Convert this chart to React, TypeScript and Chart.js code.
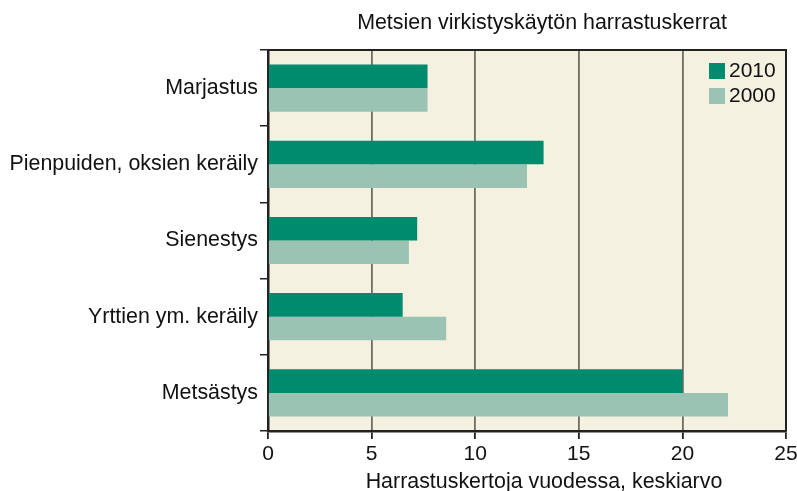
import React, { useEffect, useRef } from "react";
import { Chart, registerables } from "chart.js";

Chart.register(...registerables);

const categories = [
  "Marjastus",
  "Pienpuiden, oksien keräily",
  "Sienestys",
  "Yrttien ym. keräily",
  "Metsästys",
];
const values2010 = [7.7, 13.3, 7.2, 6.5, 20.0];
const values2000 = [7.7, 12.5, 6.8, 8.6, 22.2];
const seriesLabels = ["2010", "2000"];
const chartTitle = "Metsien virkistyskäytön harrastuskerrat";
const xAxisTitle = "Harrastuskertoja vuodessa, keskiarvo";

const DARK = "#008a6e";
const LIGHT = "#9ac3b4";
const BG = "#f5f1e1";
const FONT = "'Liberation Sans', Arial, sans-serif";

const decorPlugin = {
  id: "decor",
  beforeDraw(chart: any) {
    const { ctx, chartArea: a } = chart;
    ctx.save();
    ctx.fillStyle = BG;
    ctx.fillRect(a.left, a.top, a.right - a.left, a.bottom - a.top);
    ctx.restore();
  },
  afterDraw(chart: any) {
    const { ctx, chartArea: a } = chart;
    ctx.save();
    ctx.strokeStyle = "#222";
    ctx.lineWidth = 2;
    ctx.beginPath();
    ctx.moveTo(a.left, a.top);
    ctx.lineTo(a.right, a.top);
    ctx.lineTo(a.right, a.bottom);
    ctx.stroke();
    ctx.fillStyle = "#111";
    ctx.font = `21.4px ${FONT}`;
    ctx.textAlign = "center";
    ctx.textBaseline = "middle";
    ctx.fillText(chartTitle, 542, 23);
    ctx.fillText(xAxisTitle, 544, 482);
    const colors = [DARK, LIGHT];
    ctx.textAlign = "left";
    ctx.font = `21px ${FONT}`;
    seriesLabels.forEach((lab, i) => {
      const y = 63 + i * 25;
      ctx.fillStyle = colors[i];
      ctx.fillRect(709, y, 16, 16);
      ctx.fillStyle = "#111";
      ctx.fillText(lab, 729, y + 8.5);
    });
    ctx.restore();
  },
};

export default function App() {
  const ref = useRef<HTMLCanvasElement>(null);
  useEffect(() => {
    if (!ref.current) return;
    const chart = new Chart(ref.current, {
      type: "bar",
      data: {
        labels: categories,
        datasets: [
          { label: seriesLabels[0], data: values2010, backgroundColor: DARK },
          { label: seriesLabels[1], data: values2000, backgroundColor: LIGHT },
        ],
      },
      options: {
        indexAxis: "y",
        responsive: false,
        animation: false,
        maintainAspectRatio: false,
        categoryPercentage: 0.62,
        barPercentage: 1,
        layout: { padding: { top: 50, right: 11, left: 0, bottom: 0 } },
        plugins: {
          legend: { display: false },
          title: { display: false },
          tooltip: { enabled: false },
        },
        scales: {
          x: {
            min: 0,
            max: 25,
            ticks: {
              stepSize: 5,
              color: "#111",
              font: { family: FONT, size: 21 },
              padding: 3,
            },
            grid: {
              color: "#6f6c64",
              lineWidth: 1.8,
              tickLength: 8,
              tickColor: "#222",
            },
            border: { color: "#222", width: 2.5 },
            afterFit(scale: any) {
              scale.height = 60;
              scale.paddingRight = 0;
              scale.paddingLeft = 0;
            },
          },
          y: {
            ticks: {
              color: "#111",
              font: { family: FONT, size: 21.4 },
              padding: 2,
            },
            grid: {
              drawOnChartArea: false,
              tickLength: 8,
              color: "#222",
              lineWidth: 1.5,
            },
            border: { color: "#222", width: 2.5 },
            afterFit(scale: any) {
              scale.width = 268;
              scale.paddingTop = 0;
              scale.paddingBottom = 0;
            },
          },
        },
      },
      plugins: [decorPlugin],
    } as any);
    return () => chart.destroy();
  }, []);
  return (
    <div style={{ position: "fixed", left: 0, top: 0, width: 797, height: 491, background: "#fff" }}>
      <canvas ref={ref} width={797} height={491} style={{ width: 797, height: 491 }} />
    </div>
  );
}
